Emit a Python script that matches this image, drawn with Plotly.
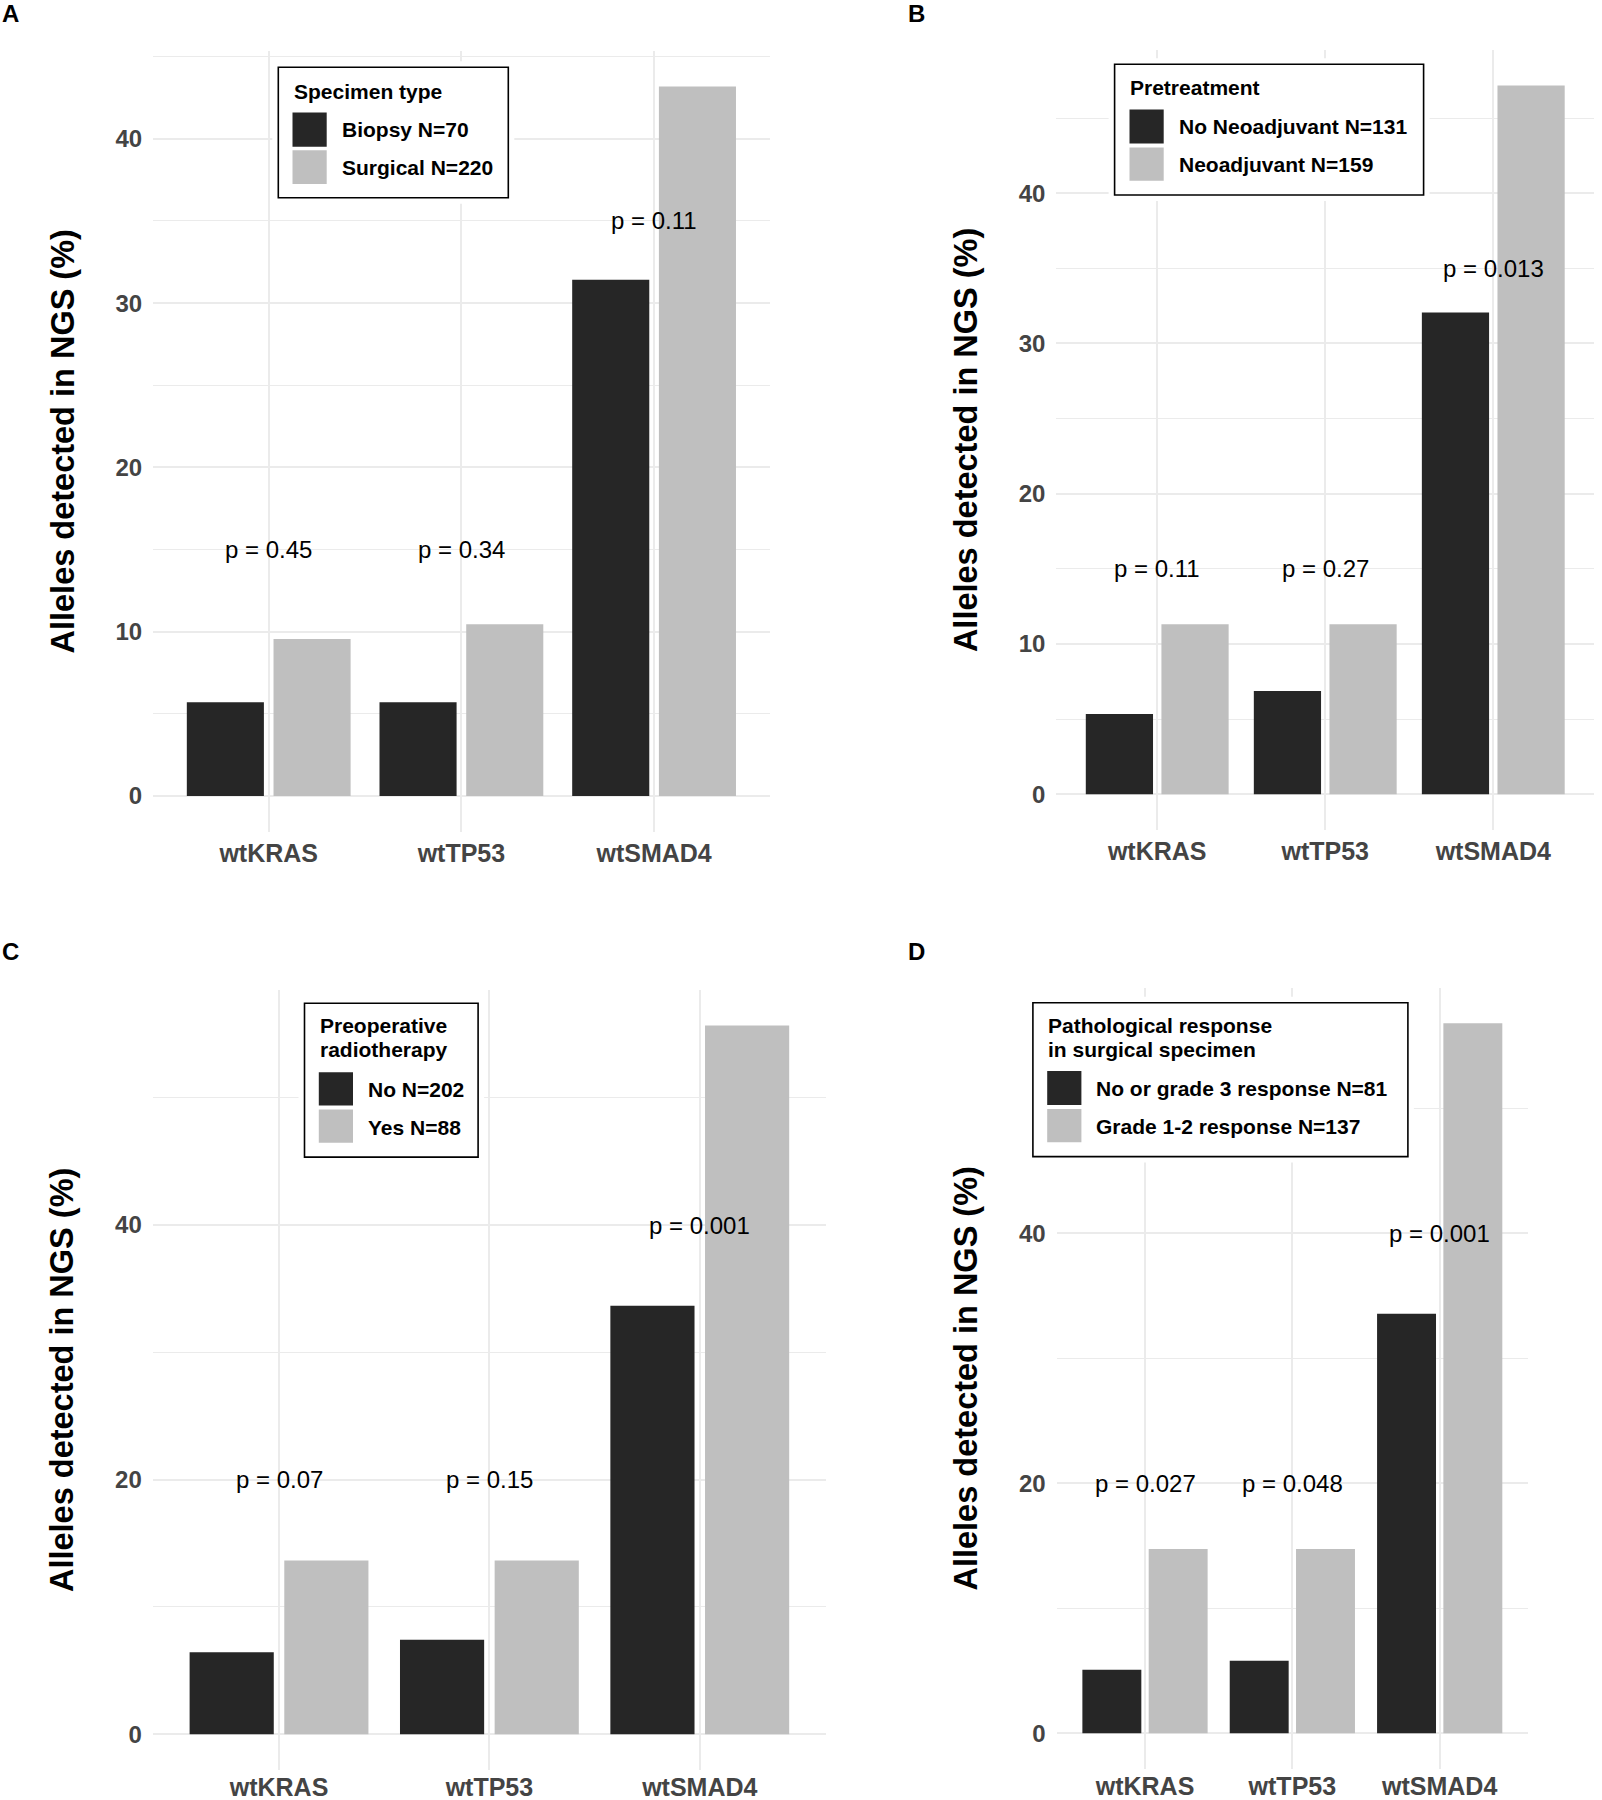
import plotly.graph_objects as go

# ---------------- data ----------------
genes = ["wtKRAS", "wtTP53", "wtSMAD4"]

a_names = ["Biopsy N=70", "Surgical N=220"]
a_dark = [5.71, 5.71, 31.43]
a_light = [9.55, 10.45, 43.18]
a_p = ["p = 0.45", "p = 0.34", "p = 0.11"]
a_py = [15, 15, 35]

b_names = ["No Neoadjuvant N=131", "Neoadjuvant N=159"]
b_dark = [5.34, 6.87, 32.06]
b_light = [11.32, 11.32, 47.17]
b_p = ["p = 0.11", "p = 0.27", "p = 0.013"]
b_py = [15, 15, 35]

c_names = ["No N=202", "Yes N=88"]
c_dark = [6.44, 7.43, 33.66]
c_light = [13.64, 13.64, 55.68]
c_p = ["p = 0.07", "p = 0.15", "p = 0.001"]
c_py = [20, 20, 40]

d_names = ["No or grade 3 response N=81", "Grade 1-2 response N=137"]
d_dark = [5.09, 5.81, 33.57]
d_light = [14.74, 14.74, 56.80]
d_p = ["p = 0.027", "p = 0.048", "p = 0.001"]
d_py = [20, 20, 40]

legend_titles = [["Specimen type"], ["Pretreatment"],
                 ["Preoperative", "radiotherapy"],
                 ["Pathological response", "in surgical specimen"]]
panel_letters = ["A", "B", "C", "D"]
y_title = "Alleles detected in NGS (%)"

# ---------------- style / layout ----------------
W, H = 1602, 1800
FONT = "Liberation Sans, Arial, Helvetica, sans-serif"
DARK = "#262626"
LIGHT = "#BFBFBF"
GRID = "#EBEBEB"
TICKC = "#444444"


def px(x):
    return x / W


def py(y):
    return 1 - y / H


# panel pixel geometry: (x0, x1, ybottom, ytop), major dtick
panels = [
    dict(x=(153.1, 769.7), y=(831.5, 51.1), dt=10, dark=a_dark, light=a_light,
         names=a_names, p=a_p, pyv=a_py, xstand=4,
         leg=dict(box=(278.3, 508.3, 67.3, 197.7), title_x=291.5, title_y=[91.0],
                  key_x=(292.5, 326.7), keys=[(112.6, 146.7), (150.2, 184.0)],
                  lab_x=339.5, lab_y=[130.0, 167.5]),
         letter=(0, 14)),
    dict(x=(1056.4, 1594.1), y=(829.8, 50.0), dt=10, dark=b_dark, light=b_light,
         names=b_names, p=b_p, pyv=b_py, xstand=4,
         leg=dict(box=(1114.6, 1423.6, 64.3, 195.0), title_x=1128.0, title_y=[87.5],
                  key_x=(1129.5, 1163.7), keys=[(109.6, 143.5), (147.5, 180.8)],
                  lab_x=1176.5, lab_y=[126.5, 164.5]),
         letter=(905.5, 14)),
    dict(x=(152.8, 826.0), y=(1769.7, 990.0), dt=20, dark=c_dark, light=c_light,
         names=c_names, p=c_p, pyv=c_py, xstand=0,
         leg=dict(box=(304.5, 478.1, 1003.3, 1157.1), title_x=317.7,
                  title_y=[1025.7, 1049.8],
                  key_x=(318.8, 353.0), keys=[(1072.2, 1105.5), (1109.5, 1142.8)],
                  lab_x=365.8, lab_y=[1089.0, 1127.0]),
         letter=(0, 951)),
    dict(x=(1056.6, 1528.1), y=(1768.8, 987.8), dt=20, dark=d_dark, light=d_light,
         names=d_names, p=d_p, pyv=d_py, xstand=0,
         leg=dict(box=(1032.9, 1407.9, 1002.7, 1156.6), title_x=1046.2,
                  title_y=[1025.7, 1049.8],
                  key_x=(1047.2, 1081.4), keys=[(1071.0, 1104.9), (1108.9, 1142.2)],
                  lab_x=1094.2, lab_y=[1088.5, 1126.0]),
         letter=(905.5, 951)),
]

fig = go.Figure()
shapes = []
annotations = []
layout_axes = {}

for i, pn in enumerate(panels):
    k = "" if i == 0 else str(i + 1)
    xa, ya = "x" + k, "y" + k
    for vals, col, nm in [(pn["dark"], DARK, pn["names"][0]),
                          (pn["light"], LIGHT, pn["names"][1])]:
        fig.add_trace(go.Bar(x=genes, y=vals, name=nm, marker_color=col,
                             marker_line_width=0, xaxis=xa, yaxis=ya,
                             showlegend=False))
    ymax = max(pn["dark"] + pn["light"])
    layout_axes["xaxis" + k] = dict(
        domain=[px(pn["x"][0]), px(pn["x"][1])], anchor=ya,
        type="category", categoryorder="array", categoryarray=genes,
        range=[-0.6, 2.6], showgrid=True, gridcolor=GRID, gridwidth=2,
        showline=False, zeroline=False, ticks="", ticklabelstandoff=pn["xstand"],
        tickfont=dict(family=FONT, size=25, color=TICKC, weight="bold"),
        automargin=False, fixedrange=True)
    layout_axes["yaxis" + k] = dict(
        domain=[py(pn["y"][0]), py(pn["y"][1])], anchor=xa,
        range=[-0.05 * ymax, 1.05 * ymax], tick0=0, dtick=pn["dt"],
        showgrid=True, gridcolor=GRID, gridwidth=2,
        minor=dict(dtick=pn["dt"] / 2, tick0=0, showgrid=True,
                   gridcolor=GRID, gridwidth=1.2),
        showline=False, zeroline=False, ticks="", ticklabelstandoff=10,
        tickfont=dict(family=FONT, size=24, color=TICKC, weight="bold"),
        title=dict(text=y_title, standoff=31,
                   font=dict(family=FONT, size=32.5, color="black", weight="bold")),
        automargin=False, fixedrange=True)

    # p-value labels
    for g, t, yv in zip(genes, pn["p"], pn["pyv"]):
        annotations.append(dict(x=g, y=yv, xref=xa, yref=ya, text=t, showarrow=False,
                                xanchor="center", yanchor="middle",
                                font=dict(family=FONT, size=24, color="black")))

    # legend box (drawn)
    lg = pn["leg"]
    bx0, bx1, by0, by1 = lg["box"]
    shapes.append(dict(type="rect", xref="paper", yref="paper",
                       x0=px(bx0 - 6), x1=px(bx1 + 6), y0=py(by1 + 6), y1=py(by0 - 6),
                       fillcolor="white", line=dict(width=0), layer="above"))
    shapes.append(dict(type="rect", xref="paper", yref="paper",
                       x0=px(bx0), x1=px(bx1), y0=py(by1), y1=py(by0),
                       fillcolor="white", line=dict(color="black", width=1.6),
                       layer="above"))
    for line_txt, ty in zip(legend_titles[i], lg["title_y"]):
        annotations.append(dict(x=px(lg["title_x"]), y=py(ty), xref="paper", yref="paper",
                                text=line_txt, showarrow=False, xanchor="left",
                                yanchor="middle",
                                font=dict(family=FONT, size=21, color="black",
                                          weight="bold")))
    for (ky0, ky1), col, nm, ly in zip(lg["keys"], [DARK, LIGHT], pn["names"], lg["lab_y"]):
        shapes.append(dict(type="rect", xref="paper", yref="paper",
                           x0=px(lg["key_x"][0]), x1=px(lg["key_x"][1]),
                           y0=py(ky1), y1=py(ky0), fillcolor=col,
                           line=dict(width=0), layer="above"))
        annotations.append(dict(x=px(lg["lab_x"]), y=py(ly), xref="paper", yref="paper",
                                text=nm, showarrow=False, xanchor="left",
                                yanchor="middle",
                                font=dict(family=FONT, size=21, color="black",
                                          weight="bold")))
    # panel letter
    lx, ly = pn["letter"]
    annotations.append(dict(x=px(lx), y=py(ly), xref="paper", yref="paper",
                            text=panel_letters[i], showarrow=False, xanchor="left",
                            yanchor="middle",
                            font=dict(family=FONT, size=24, color="black",
                                      weight="bold")))

fig.update_layout(
    width=W, height=H, margin=dict(l=0, r=0, t=0, b=0, autoexpand=False),
    paper_bgcolor="white", plot_bgcolor="white",
    barmode="group", bargap=0.1, bargroupgap=0.111,
    showlegend=False, shapes=shapes, annotations=annotations,
    font=dict(family=FONT),
    **layout_axes,
)

fig.write_html("out.html",
               config={"displayModeBar": False},
               post_script="document.body.style.margin='0px';"
                           "document.body.style.padding='0px';")
